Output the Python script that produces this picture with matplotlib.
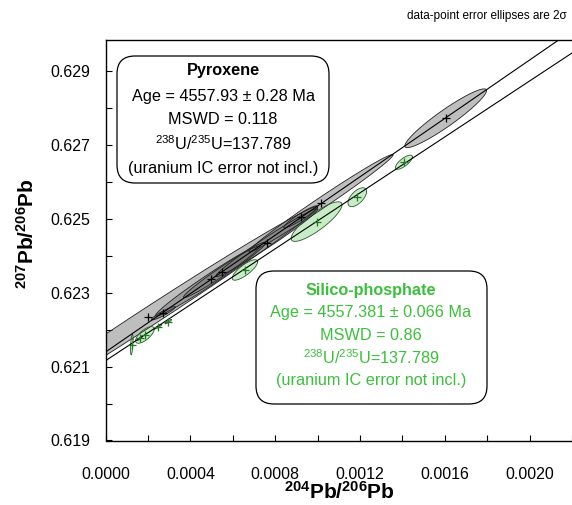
import numpy as np
import matplotlib
matplotlib.use("Agg")
import matplotlib.pyplot as plt
from matplotlib.patches import FancyBboxPatch

plt.rcParams["font.family"] = ["Liberation Sans", "DejaVu Sans"]
plt.rcParams["mathtext.fontset"] = "custom"
plt.rcParams["mathtext.rm"] = "Liberation Sans"
plt.rcParams["mathtext.bf"] = "Liberation Sans:bold"

# pyroxene data points (204/206, 207/206, 1-sigma errors, error correlation)
pyx_x = [0.00020, 0.000272, 0.000495, 0.000547, 0.00076, 0.00092, 0.0010156, 0.001604]
pyx_sx = [0.00040, 0.000028, 0.00013, 0.00009, 0.00012, 0.00004, 0.00017, 0.0000963]
pyx_y = [0.62234, 0.622447, 0.62337, 0.62357, 0.62436, 0.62506, 0.625428, 0.62773]
pyx_sy = [0.00150, 0.00009, 0.00050, 0.00035, 0.00046, 0.00015, 0.00066, 0.000398]
pyx_rho = [0.995, 0.93, 0.984, 0.98, 0.985, 0.943, 0.991, 0.94]

# silico-phosphate data points
sp_x = [0.000123, 0.000162, 0.000185, 0.000248, 0.000295, 0.000657, 0.000995, 0.001187, 0.001407]
sp_sx = [0.000003, 0.000006, 0.000022, 0.000008, 0.000008, 0.00003, 0.00006, 0.000022, 0.00002]
sp_y = [0.62160, 0.62177, 0.62186, 0.622084, 0.62222, 0.62362, 0.62493, 0.625591, 0.626539]
sp_sy = [0.00014, 0.00003, 0.000113, 0.00003, 0.00003, 0.000139, 0.000268, 0.000128, 0.000096]
sp_rho = [0.5, 0.9, 0.7, 0.9, 0.9, 0.8, 0.85, 0.6, 0.75]

# regression lines (intercept, slope)
pyx_fit = (0.62140, 3.954)
sp_fit = (0.621164, 3.788)

pyx_lines = ["Pyroxene", "Age = 4557.93 ± 0.28 Ma", "MSWD = 0.118",
             r"$^{238}$U/$^{235}$U=137.789", "(uranium IC error not incl.)"]
sp_lines = ["Silico-phosphate", "Age = 4557.381 ± 0.066 Ma", "MSWD = 0.86",
            r"$^{238}$U/$^{235}$U=137.789", "(uranium IC error not incl.)"]

W, H = 572, 505
fig = plt.figure(figsize=(W / 100, H / 100), dpi=100)
ax = fig.add_axes([105.7 / W, 64.5 / H, 1 - 105.7 / W, 400.5 / H])

t = np.linspace(0, 2 * np.pi, 200)


def draw_ellipses(xs, sxs, ys, sys_, rhos, fc, alpha, ec, mc):
    for x, sx, y, sy, r in zip(xs, sxs, ys, sys_, rhos):
        ex = x + 2 * sx * np.cos(t)
        ey = y + 2 * sy * (r * np.cos(t) + np.sqrt(1 - r ** 2) * np.sin(t))
        ax.fill(ex, ey, facecolor=fc, alpha=alpha, edgecolor="none", zorder=2)
        ax.plot(ex, ey, color=ec, lw=0.6, zorder=3)
    ax.plot(xs, ys, "+", color=mc, ms=6, mew=0.9, zorder=5)


draw_ellipses(pyx_x, pyx_sx, pyx_y, pyx_sy, pyx_rho, "#707070", 0.45, "#222222", "black")
draw_ellipses(sp_x, sp_sx, sp_y, sp_sy, sp_rho, "#bfe9bf", 0.85, "#2d5a2d", "#1f7a1f")

xx = np.array([0, 0.0023])
ax.plot(xx, pyx_fit[0] + pyx_fit[1] * xx, color="black", lw=0.8, zorder=4)
ax.plot(xx, sp_fit[0] + sp_fit[1] * xx, color="black", lw=0.8, zorder=4)

ax.set_xlim(0, 0.0022)
ax.set_ylim(0.619, 0.62985)
ax.set_xticks(np.arange(0, 0.00201, 0.0004))
ax.set_xticks(np.arange(0, 0.00221, 0.0002), minor=True)
ax.set_yticks(np.arange(0.619, 0.6295, 0.002))
ax.set_yticks(np.arange(0.619, 0.6299, 0.001), minor=True)
ax.xaxis.set_major_formatter(plt.FormatStrFormatter("%.4f"))
ax.yaxis.set_major_formatter(plt.FormatStrFormatter("%.3f"))
ax.tick_params(which="both", direction="in", length=4, width=0.8, top=False, right=False)
ax.tick_params(axis="x", which="major", labelsize=11.5, pad=19)
ax.tick_params(axis="y", which="major", labelsize=11.5, pad=11)
ax.spines["right"].set_visible(False)
for s in ["left", "bottom", "top"]:
    ax.spines[s].set_linewidth(1.0)

fig.text(27 / W, 1 - 234 / H, r"$\mathbf{^{207}}$Pb/$\mathbf{^{206}}$Pb", rotation=90,
         ha="center", va="center", fontsize=15, fontweight="bold")
fig.text(339 / W, 1 - 492 / H, r"$\mathbf{^{204}}$Pb/$\mathbf{^{206}}$Pb",
         ha="center", va="center", fontsize=15, fontweight="bold")
fig.text(567 / W, 1 - 16 / H, "data-point error ellipses are 2σ",
         ha="right", va="center", fontsize=8.5)


def text_box(x0, y0, x1, y1, cx, ys, lines, color):
    box = FancyBboxPatch((x0 / W, 1 - y1 / H), (x1 - x0) / W, (y1 - y0) / H,
                         boxstyle="round,pad=0,rounding_size=%f" % (18 / W),
                         mutation_aspect=W / H, transform=fig.transFigure,
                         facecolor="white", edgecolor="black", lw=0.9, zorder=6)
    fig.patches.append(box)
    for i, (s, y) in enumerate(zip(lines, ys)):
        fig.text(cx / W, 1 - y / H, s, ha="center", va="center", fontsize=11.7,
                 color=color, fontweight="bold" if i == 0 else "normal", zorder=7)


text_box(117, 56, 329, 183, 223, [71, 96, 120, 144, 168], pyx_lines, "black")
text_box(256, 271, 487, 404, 371, [290, 313, 336, 358, 381], sp_lines, "#3cbf3c")

fig.savefig("out.png", dpi=100)
